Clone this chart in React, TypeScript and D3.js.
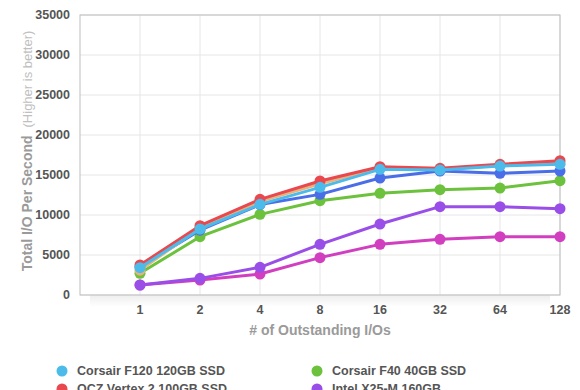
import React from 'react';
import * as d3 from 'd3';

const categories = ['1', '2', '4', '8', '16', '32', '64', '128'];
const yTicks = [0, 5000, 10000, 15000, 20000, 25000, 30000, 35000];

const magentaValues = [1250, 1870, 2620, 4670, 6330, 6960, 7290, 7290];
const purpleValues = [1250, 2080, 3460, 6330, 8870, 11040, 11040, 10790];
const greenValues = [2710, 7290, 10080, 11790, 12710, 13170, 13370, 14290];
const blueValues = [3500, 8100, 11300, 12580, 14620, 15500, 15210, 15500];
const tanValues = [3100, 8400, 11700, 13900, 15900, 15700, 16200, 16500];
const redValues = [3750, 8660, 11960, 14250, 16040, 15830, 16330, 16790];
const lightBlueValues = [3420, 8250, 11330, 13460, 15710, 15620, 16120, 16330];

// drawn bottom to top
const series = [
  { name: 'Drive E', color: '#d13fc0', values: magentaValues },
  { name: 'Intel X25-M 160GB', color: '#9a4ee8', values: purpleValues },
  { name: 'Corsair F40 40GB SSD', color: '#6cc13d', values: greenValues },
  { name: 'Drive F', color: '#4a6de8', values: blueValues },
  { name: 'Drive G', color: '#e8b27c', values: tanValues },
  { name: 'OCZ Vertex 2 100GB SSD', color: '#e8484e', values: redValues },
  { name: 'Corsair F120 120GB SSD', color: '#4cbbea', values: lightBlueValues },
];

const legendOrder = [
  'Corsair F120 120GB SSD',
  'Corsair F40 40GB SSD',
  'OCZ Vertex 2 100GB SSD',
  'Intel X25-M 160GB',
  'Drive F',
  'Drive G',
];

const font = '"Helvetica Neue", Arial, "Liberation Sans", sans-serif';

export default function App() {
  const left = 80, right = 560, top = 15, bottom = 295;
  const x = d3.scaleLinear().domain([0, categories.length]).range([left, right]);
  const y = d3.scaleLinear().domain([0, 35000]).range([bottom, top]);
  const line = d3.line<number>()
    .x((_, i) => x(i + 1))
    .y(d => y(d));

  const gridX = d3.range(1, categories.length + 1);

  return (
    <svg width={580} height={390} style={{ position: 'absolute', left: 0, top: 0, background: '#fff' }}
      fontFamily={font}>
      <defs>
        <linearGradient id="shadow" x1="0" y1="0" x2="0" y2="1">
          <stop offset="0" stopColor="#000" stopOpacity={0.07} />
          <stop offset="1" stopColor="#000" stopOpacity={0} />
        </linearGradient>
      </defs>
      <rect x={left + 10} y={bottom} width={right - left - 20} height={12} fill="url(#shadow)" />
      {yTicks.map(t => (
        <g key={t}>
          <line x1={left} x2={right} y1={y(t)} y2={y(t)} stroke="#e6e6e6" strokeWidth={1} />
          <text x={70} y={y(t)} dy="0.35em" textAnchor="end" fontSize={12.5} fontWeight="bold" fill="#555">{t}</text>
        </g>
      ))}
      {gridX.map(i => (
        <line key={i} x1={x(i)} x2={x(i)} y1={top} y2={bottom} stroke="#e6e6e6" strokeWidth={1} />
      ))}
      <rect x={left} y={top} width={right - left} height={bottom - top} fill="none" stroke="#bdbdbd" strokeWidth={1} />
      {categories.map((c, i) => (
        <text key={c} x={x(i + 1)} y={310} dy="0.35em" textAnchor="middle" fontSize={12.5} fontWeight="bold" fill="#555">{c}</text>
      ))}
      <text x={320} y={330} dy="0.35em" textAnchor="middle" fontSize={14} fontWeight="bold" fill="#9a9a9a"># of Outstanding I/Os</text>
      <text transform="translate(32,151) rotate(-90)" textAnchor="middle" fill="#9a9a9a">
        <tspan fontSize={14} fontWeight="bold">Total I/O Per Second</tspan>
        <tspan fontSize={13} fill="#c0c0c0" dx={8}>(Higher is better)</tspan>
      </text>
      {series.map(s => (
        <g key={s.name}>
          <path d={line(s.values) || ''} fill="none" stroke={s.color} strokeWidth={3} strokeLinejoin="round" />
          {s.values.map((v, i) => (
            <circle key={i} cx={x(i + 1)} cy={y(v)} r={5.5} fill={s.color} />
          ))}
        </g>
      ))}
      {legendOrder.map((name, i) => {
        const s = series.find(d => d.name === name)!;
        const col = i % 2, row = Math.floor(i / 2);
        const lx = col === 0 ? 62 : 317;
        const ly = 371 + row * 18;
        return (
          <g key={name}>
            <circle cx={lx} cy={ly} r={5.5} fill={s.color} />
            <text x={lx + 15} y={ly} dy="0.35em" fontSize={12.5} fontWeight="bold" fill="#555">{name}</text>
          </g>
        );
      })}
    </svg>
  );
}
